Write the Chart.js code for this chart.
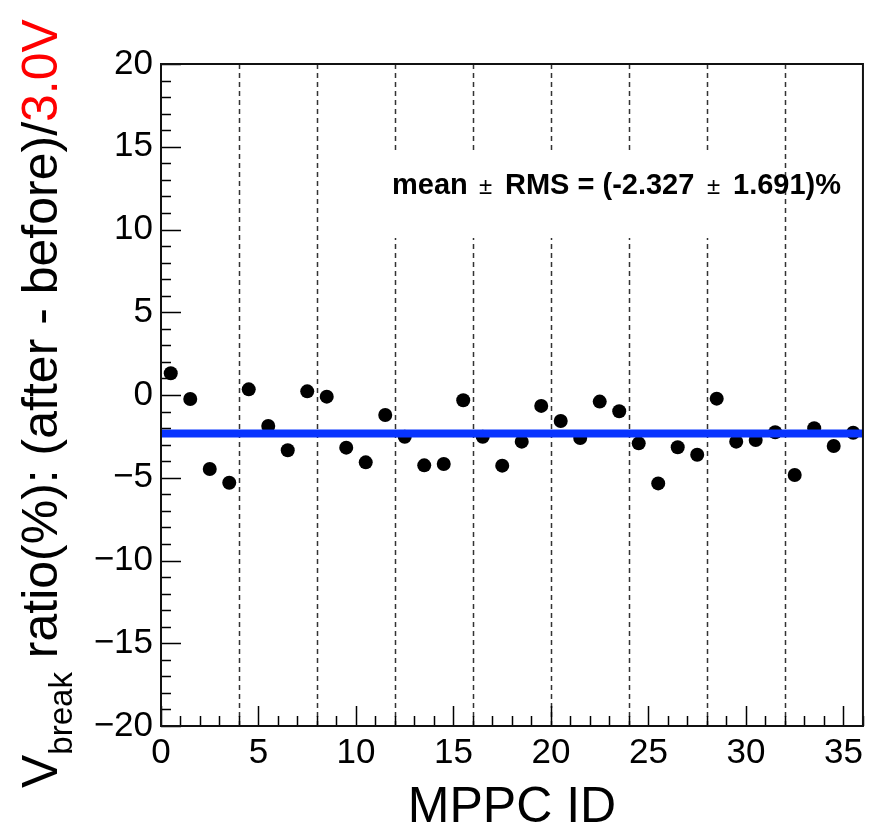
<!DOCTYPE html>
<html>
<head>
<meta charset="utf-8">
<script src="https://cdn.jsdelivr.net/npm/chart.js@4.4.1/dist/chart.umd.min.js"></script>
<style>
  html, body { margin: 0; padding: 0; background: #fff; }
  #wrap { width: 869px; height: 832px; }
</style>
</head>
<body>
<div id="wrap"><canvas id="vbreak" width="869" height="832"></canvas></div>
<script>
// MPPC channel numbers (each drawn at its bin centre)
const mppcIds = [0, 1, 2, 3, 4, 5, 6, 7, 8, 9, 10, 11, 12, 13, 14, 15, 16, 17,
  18, 19, 20, 21, 22, 23, 24, 25, 26, 27, 28, 29, 30, 31, 32, 33, 34, 35];

// breakdown voltage change, percent of 3.0V
const breakRatio = [1.31, -0.24, -4.47, -5.30, 0.34, -1.87, -3.34, 0.22, -0.10,
  -3.18, -4.07, -1.21, -2.52, -4.25, -4.17, -0.32, -2.52, -4.27, -2.82, -0.66,
  -1.57, -2.60, -0.40, -0.98, -2.92, -5.34, -3.16, -3.61, -0.22, -2.82, -2.72,
  -2.25, -4.83, -2.01, -3.08, -2.28];

const meanRatio = -2.327;
const rmsRatio = 1.691;

// dashed separators every 4 channels
const groupEdges = [4, 8, 12, 16, 20, 24, 28, 32];

const FONT = '"Liberation Sans", Arial, Helvetica, sans-serif';
const BLUE = 'rgb(8, 52, 255)';

const points = mppcIds.map((id, i) => ({ x: id + 0.5, y: breakRatio[i] }));

// ROOT-like frame, inside ticks, dashed group lines, stats text and y title
const rootStyle = {
  id: 'rootStyle',
  beforeDatasetsDraw(chart) {
    const { ctx, chartArea: a, scales: { x } } = chart;
    ctx.save();
    ctx.strokeStyle = '#333';
    ctx.lineWidth = 1.5;
    ctx.setLineDash([5, 4]);
    groupEdges.forEach(v => {
      const px = Math.round(x.getPixelForValue(v)) + 0.5;
      ctx.beginPath();
      ctx.moveTo(px, a.top);
      ctx.lineTo(px, a.bottom);
      ctx.stroke();
    });
    ctx.restore();
  },
  afterDatasetsDraw(chart) {
    const { ctx, chartArea: a, scales: { x, y } } = chart;
    ctx.save();

    // stats box
    ctx.fillStyle = '#fff';
    ctx.fillRect(386, 150, 384, 88);
    ctx.fillStyle = '#000';
    ctx.textBaseline = 'alphabetic';
    ctx.textAlign = 'left';
    const bold = 'bold 29px ' + FONT;
    const thin = '24px ' + FONT;
    const parts = [
      ['mean', 392, bold],
      ['\u00b1', 479, thin],
      ['RMS = (' + meanRatio.toFixed(3), 505, bold],
      ['\u00b1', 707, thin],
      [rmsRatio.toFixed(3) + ')%', 733, bold]
    ];
    parts.forEach(([t, px, f]) => { ctx.font = f; ctx.fillText(t, px, 194); });

    // tick marks pointing into the frame
    ctx.strokeStyle = '#000';
    ctx.lineWidth = 1.5;
    ctx.beginPath();
    for (let v = Math.ceil(y.min); v <= y.max; v++) {
      const py = Math.round(y.getPixelForValue(v)) + 0.5;
      const len = v % 5 === 0 ? 20 : 10;
      ctx.moveTo(a.left, py);
      ctx.lineTo(a.left + len, py);
    }
    for (let v = Math.ceil(x.min); v <= x.max; v++) {
      const px = Math.round(x.getPixelForValue(v)) + 0.5;
      const len = v % 5 === 0 ? 20 : 10;
      ctx.moveTo(px, a.bottom);
      ctx.lineTo(px, a.bottom - len);
    }
    ctx.stroke();

    // frame
    ctx.lineWidth = 2;
    ctx.strokeStyle = '#111';
    ctx.strokeRect(a.left, a.top, a.right - a.left, a.bottom - a.top);
    ctx.restore();
  },
  afterDraw(chart) {
    const { ctx } = chart;
    ctx.save();
    ctx.translate(57, 788);
    ctx.rotate(-Math.PI / 2);
    ctx.textBaseline = 'alphabetic';
    ctx.textAlign = 'left';
    let cx = 0;
    const big = '50px ' + FONT;
    const sub = '33px ' + FONT;
    ctx.fillStyle = '#000';
    ctx.font = big;
    ctx.fillText('V', cx, 0);
    cx += ctx.measureText('V').width;
    ctx.font = sub;
    ctx.fillText('break', cx, 15);
    cx += ctx.measureText('break').width;
    ctx.font = big;
    const mid = ' ratio(%): (after - before)/';
    ctx.fillText(mid, cx, 0);
    cx += ctx.measureText(mid).width;
    ctx.fillStyle = '#ff0000';
    ctx.fillText('3.0V', cx, 0);
    ctx.restore();
  }
};

new Chart(document.getElementById('vbreak'), {
  type: 'scatter',
  data: {
    datasets: [
      {
        type: 'line',
        label: 'mean',
        data: [{ x: 0, y: meanRatio }, { x: 36, y: meanRatio }],
        borderColor: BLUE,
        borderWidth: 8,
        pointRadius: 0,
        borderCapStyle: 'butt',
        order: 0
      },
      {
        label: 'MPPC',
        data: points,
        backgroundColor: '#000',
        borderColor: '#000',
        pointRadius: 7,
        borderWidth: 0,
        order: 1
      }
    ]
  },
  options: {
    responsive: false,
    animation: false,
    devicePixelRatio: 1,
    layout: { autoPadding: false, padding: { top: 64, right: 3, left: 0, bottom: 0 } },
    plugins: { legend: { display: false }, tooltip: { enabled: false } },
    scales: {
      x: {
        type: 'linear',
        position: 'bottom',
        min: 0,
        max: 36,
        grid: { display: false, drawTicks: false },
        border: { display: false },
        ticks: {
          stepSize: 5,
          includeBounds: false,
          autoSkip: false,
          maxRotation: 0,
          padding: 6,
          color: '#000',
          font: { family: FONT, size: 35 }
        },
        title: {
          display: true,
          text: 'MPPC ID',
          color: '#000',
          font: { family: FONT, size: 50 },
          padding: { top: 0, bottom: -6 }
        },
        afterFit(s) {
          s.height = 106;
        }
      },
      y: {
        min: -20,
        max: 20,
        grid: { display: false, drawTicks: false },
        border: { display: false },
        ticks: {
          stepSize: 5,
          padding: 8,
          color: '#000',
          font: { family: FONT, size: 35 },
          callback: v => String(v).replace('-', '\u2212')
        },
        afterFit(s) {
          s.width = 161;
        }
      }
    }
  },
  plugins: [rootStyle]
});
</script>
</body>
</html>
